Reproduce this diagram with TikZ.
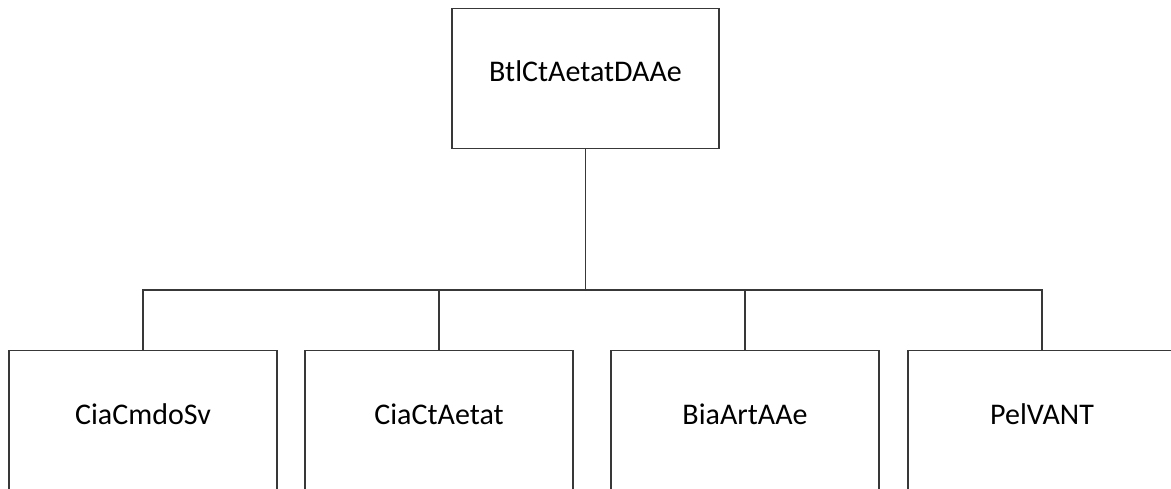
\documentclass[tikz,border=0pt]{standalone}
\usepackage{fontspec}
\setmainfont{Carlito}
\usetikzlibrary{positioning}

\begin{document}
\begin{tikzpicture}[x=1pt, y=-1pt, line width=1.2pt, draw=black!78,
  every node/.style={font=\fontsize{30}{36}\selectfont},
  unit/.style={draw, rectangle, inner sep=0pt, minimum width=268pt, minimum height=140pt, text height=21pt, text depth=14pt}]
\clip (0,0) rectangle (1171,489);
\node[unit, minimum width=267pt] (top) at (585.5,78.5) {BtlCtAetatDAAe};
\node[unit] (c1) at (143,420.5) {CiaCmdoSv};
\node[unit] (c2) at (439,420.5) {CiaCtAetat};
\node[unit] (c3) at (745,420.5) {BiaArtAAe};
\node[unit] (c4) at (1042,420.5) {PelVANT};
\coordinate (bus) at (top.south |- 0,290);
\draw (top.south) -- (bus);
\draw (c1.north) |- (bus) -| (c4.north);
\draw (c2.north) -- (c2.north |- bus); \draw (c3.north) -- (c3.north |- bus);
\end{tikzpicture}
\end{document}
